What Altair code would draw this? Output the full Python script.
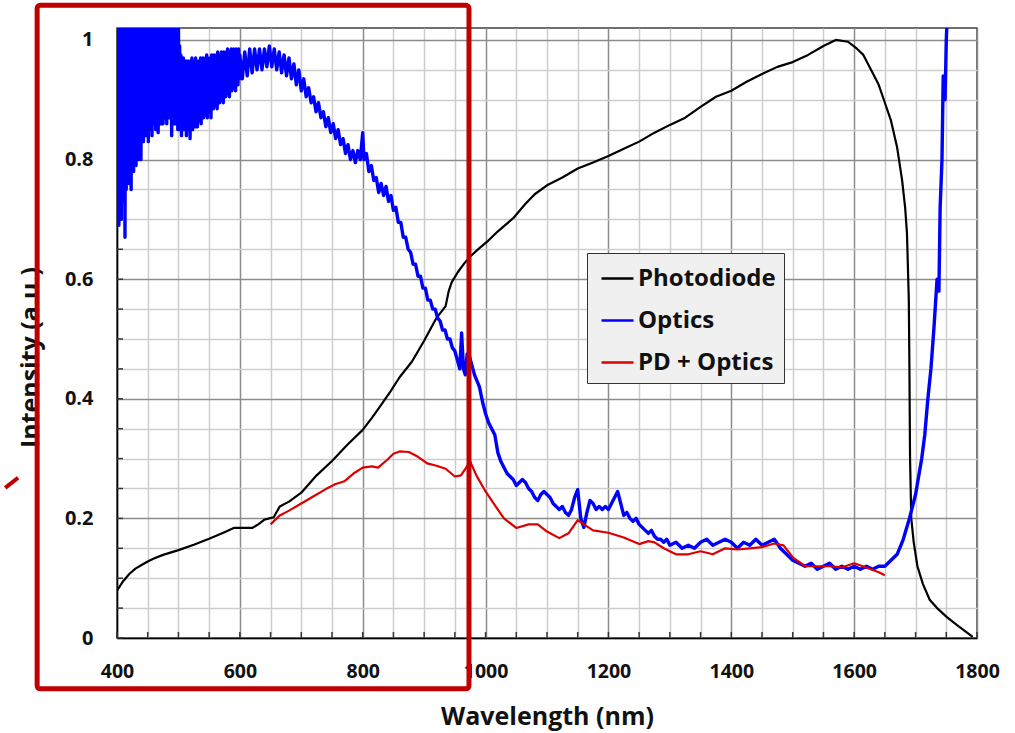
import altair as alt
import pandas as pd

# ---------------- data ----------------
series_names = ["Photodiode", "Optics", "PD + Optics"]
series_colors = ["#000000", "#0000ff", "#dd0000"]

photodiode_nm = [400, 410, 420, 430, 440, 450, 460, 475, 500, 525, 550, 575, 590, 620, 630, 640,
                 655, 665, 680, 700, 725, 750, 775, 800, 815, 830, 845, 860, 880, 900, 920, 935,
                 940, 945, 955, 965, 975, 990, 1005, 1020, 1045, 1065, 1080, 1100, 1125, 1150,
                 1175, 1200, 1225, 1250, 1275, 1300, 1325, 1350, 1375, 1400, 1425, 1450, 1475,
                 1500, 1525, 1550, 1570, 1590, 1605, 1615, 1630, 1640, 1650, 1660, 1670, 1678,
                 1683, 1686, 1689, 1690, 1691, 1693, 1697, 1703, 1712, 1723, 1735, 1751, 1767,
                 1780, 1793]
photodiode_val = [0.079, 0.095, 0.107, 0.116, 0.122, 0.128, 0.133, 0.139, 0.147, 0.156, 0.166,
                  0.177, 0.184, 0.184, 0.190, 0.198, 0.202, 0.220, 0.228, 0.243, 0.272, 0.296,
                  0.323, 0.348, 0.368, 0.390, 0.412, 0.436, 0.462, 0.497, 0.535, 0.555, 0.580,
                  0.595, 0.612, 0.626, 0.638, 0.652, 0.665, 0.680, 0.702, 0.726, 0.742, 0.757,
                  0.770, 0.785, 0.795, 0.806, 0.818, 0.830, 0.845, 0.858, 0.870, 0.888, 0.905,
                  0.915, 0.930, 0.943, 0.955, 0.963, 0.975, 0.990, 1.000, 0.997, 0.985, 0.975,
                  0.945, 0.925, 0.895, 0.865, 0.820, 0.766, 0.720, 0.677, 0.565, 0.450, 0.300,
                  0.200, 0.160, 0.120, 0.090, 0.064, 0.050, 0.035, 0.022, 0.012, 0.002]

# Optics, 400-599 nm: the trace swings between a clipped top and a noisy floor every nm
noisy_nm_even = list(range(400, 600, 2))
noisy_top = [1.05] * 50 + [
    1.02, 0.99, 0.975, 0.965, 0.97, 0.96, 0.965, 0.96, 0.965, 0.96,
    0.965, 0.97, 0.96, 0.965, 0.97, 0.965, 0.96, 0.965, 0.97, 0.965,
    0.97, 0.965, 0.97, 0.975, 0.97, 0.965, 0.97, 0.975, 0.97, 0.975,
    0.97, 0.975, 0.98, 0.97, 0.975, 0.98, 0.975, 0.98, 0.975, 0.98,
    0.985, 0.975, 0.98, 0.985, 0.98, 0.985, 0.98, 0.985, 0.98, 0.985]
noisy_nm_odd = list(range(401, 600, 2))
noisy_floor = [
    0.72, 0.69, 0.74, 0.70, 0.76, 0.73, 0.67, 0.75, 0.78, 0.76,
    0.77, 0.75, 0.80, 0.78, 0.80, 0.79, 0.82, 0.80, 0.81, 0.80,
    0.86, 0.83, 0.90, 0.84, 0.85, 0.83, 0.87, 0.85, 0.84, 0.86,
    0.88, 0.85, 0.87, 0.845, 0.87, 0.86, 0.88, 0.86, 0.89, 0.87,
    0.86, 0.88, 0.87, 0.88, 0.84, 0.86, 0.87, 0.86, 0.89, 0.85,
    0.87, 0.85, 0.84, 0.86, 0.85, 0.87, 0.84, 0.86, 0.85, 0.835,
    0.86, 0.85, 0.87, 0.855, 0.86, 0.855, 0.87, 0.865, 0.86, 0.875,
    0.87, 0.88, 0.875, 0.87, 0.885, 0.88, 0.87, 0.89, 0.885, 0.895,
    0.89, 0.885, 0.90, 0.895, 0.905, 0.90, 0.895, 0.91, 0.905, 0.915,
    0.91, 0.905, 0.92, 0.915, 0.925, 0.92, 0.915, 0.93, 0.925, 0.935]

optics_points = [
    (600, 0.975), (604, 0.935), (608, 0.98), (612, 0.94), (616, 0.985),
    (620, 0.945), (624, 0.985), (628, 0.95), (632, 0.985), (636, 0.95), (640, 0.985), (644, 0.955),
    (648, 0.99), (652, 0.955), (656, 0.985), (660, 0.95), (664, 0.98), (668, 0.945), (672, 0.975),
    (676, 0.94), (680, 0.97), (684, 0.935), (688, 0.96), (692, 0.925), (696, 0.95), (700, 0.915),
    (704, 0.935), (708, 0.905), (712, 0.92), (716, 0.895), (720, 0.905), (724, 0.88), (728, 0.895),
    (732, 0.87), (736, 0.88), (740, 0.855), (744, 0.87), (748, 0.845), (752, 0.86), (756, 0.835),
    (760, 0.85), (764, 0.825), (768, 0.835), (772, 0.81), (776, 0.825), (780, 0.80), (784, 0.815),
    (788, 0.795), (792, 0.815), (796, 0.80), (800, 0.845), (802, 0.80), (806, 0.81), (810, 0.78),
    (814, 0.79), (818, 0.765), (822, 0.77), (826, 0.745), (830, 0.76), (834, 0.74), (838, 0.755),
    (842, 0.73), (846, 0.74), (850, 0.715), (854, 0.72), (858, 0.695), (862, 0.695), (866, 0.67),
    (870, 0.67), (874, 0.65), (878, 0.645), (882, 0.625), (886, 0.625), (890, 0.605), (894, 0.605),
    (898, 0.585), (902, 0.585), (906, 0.565), (910, 0.565), (914, 0.55), (918, 0.55), (922, 0.535),
    (926, 0.53), (930, 0.515), (934, 0.515), (938, 0.50), (942, 0.50), (946, 0.485), (950, 0.48),
    (954, 0.465), (958, 0.45), (961, 0.51), (964, 0.45), (967, 0.44), (970, 0.475), (974, 0.47),
    (978, 0.455), (982, 0.44), (986, 0.43), (990, 0.42), (995, 0.395), (1000, 0.375),
    (1005, 0.36), (1010, 0.35), (1015, 0.34), (1020, 0.31), (1025, 0.295), (1030, 0.285),
    (1035, 0.275), (1040, 0.27), (1045, 0.265), (1050, 0.255), (1055, 0.26), (1060, 0.265),
    (1065, 0.26), (1070, 0.25), (1075, 0.245), (1080, 0.235), (1085, 0.23), (1090, 0.24),
    (1095, 0.245), (1100, 0.24), (1105, 0.235), (1110, 0.225), (1115, 0.22), (1120, 0.215),
    (1125, 0.22), (1130, 0.21), (1135, 0.205), (1140, 0.215), (1145, 0.235), (1150, 0.248),
    (1155, 0.20), (1160, 0.185), (1165, 0.21), (1170, 0.23), (1175, 0.225), (1180, 0.215),
    (1185, 0.22), (1190, 0.215), (1195, 0.22), (1200, 0.215), (1205, 0.225), (1210, 0.235),
    (1215, 0.245), (1220, 0.225), (1225, 0.205), (1230, 0.21), (1235, 0.20), (1240, 0.195),
    (1245, 0.20), (1250, 0.19), (1255, 0.185), (1260, 0.18), (1265, 0.175), (1270, 0.18),
    (1275, 0.17), (1280, 0.165), (1285, 0.165), (1290, 0.16), (1295, 0.165), (1300, 0.155),
    (1310, 0.16), (1320, 0.15), (1330, 0.155), (1340, 0.15), (1350, 0.16), (1360, 0.165),
    (1370, 0.155), (1380, 0.16), (1390, 0.165), (1400, 0.16), (1410, 0.15), (1420, 0.16),
    (1430, 0.155), (1440, 0.165), (1450, 0.155), (1460, 0.16), (1470, 0.165), (1480, 0.15),
    (1490, 0.14), (1500, 0.13), (1510, 0.125), (1520, 0.12), (1530, 0.125), (1540, 0.115),
    (1550, 0.12), (1560, 0.125), (1570, 0.115), (1580, 0.12), (1590, 0.115), (1600, 0.12),
    (1610, 0.115), (1620, 0.12), (1630, 0.115), (1640, 0.12), (1650, 0.12), (1660, 0.13),
    (1670, 0.14), (1680, 0.165), (1690, 0.20), (1700, 0.24), (1705, 0.27), (1710, 0.30),
    (1715, 0.34), (1720, 0.40), (1725, 0.45), (1730, 0.52), (1735, 0.60), (1738, 0.58),
    (1740, 0.72), (1743, 0.80), (1745, 0.94), (1748, 0.90), (1750, 1.00), (1752, 1.05),
]

pd_optics_nm = [650, 665, 680, 700, 720, 740, 755, 770, 785, 800, 815, 825, 840, 850, 860, 875,
                890, 905, 920, 935, 950, 960, 975, 985, 1000, 1015, 1030, 1050, 1070, 1085, 1100,
                1120, 1135, 1150, 1160, 1175, 1200, 1225, 1250, 1265, 1275, 1290, 1310, 1330,
                1350, 1370, 1390, 1410, 1430, 1450, 1470, 1485, 1500, 1520, 1540, 1560, 1580,
                1600, 1620, 1640, 1650]
pd_optics_val = [0.190, 0.205, 0.213, 0.225, 0.237, 0.249, 0.257, 0.262, 0.275, 0.285, 0.287,
                 0.285, 0.298, 0.308, 0.312, 0.311, 0.303, 0.292, 0.288, 0.283, 0.270, 0.272,
                 0.295, 0.272, 0.245, 0.222, 0.200, 0.184, 0.190, 0.190, 0.178, 0.167, 0.175,
                 0.197, 0.190, 0.180, 0.176, 0.168, 0.157, 0.162, 0.160, 0.150, 0.140, 0.140,
                 0.145, 0.140, 0.150, 0.148, 0.150, 0.152, 0.158, 0.155, 0.135, 0.120, 0.120,
                 0.120, 0.118, 0.125, 0.118, 0.110, 0.105]

x_ticks = list(range(400, 1801, 50))
y_ticks = [round(i * 0.05, 2) for i in range(21)]

# red highlight box (annotation) in data units
highlight_nm = [270, 973]
highlight_int = [-0.085, 1.058]
slash_nm = [218, 239]
slash_int = [0.251, 0.268]

# ---------------- frames ----------------
pdf = pd.DataFrame({"nm": photodiode_nm, "val": photodiode_val, "series": series_names[0]})
optics_nm = noisy_nm_even + noisy_nm_odd + [p[0] for p in optics_points]
optics_val = noisy_top + noisy_floor + [p[1] for p in optics_points]
odf = pd.DataFrame({"nm": optics_nm, "val": optics_val, "series": series_names[1]})
rdf = pd.DataFrame({"nm": pd_optics_nm, "val": pd_optics_val, "series": series_names[2]})

FONT = "Open Sans"
TXT = "#111111"
xscale = alt.Scale(domain=[400, 1800], nice=False, zero=False)
yscale = alt.Scale(domain=[0, 1.02], nice=False, zero=True)
cscale = alt.Scale(domain=series_names, range=series_colors)

XAXIS = alt.Axis(
    values=x_ticks, format="d",
    labelExpr="datum.value % 200 === 0 ? datum.label : ''",
    grid=True,
    gridColor={"condition": {"test": "datum.value % 200 === 0", "value": "#8c8c8c"}, "value": "#cdcdcd"},
    gridWidth=1.5, ticks=False, domainColor="#000000", domainWidth=1.5,
    labelFont=FONT, labelFontWeight="bold", labelFontSize=19.5, labelColor=TXT,
    labelPadding=24, labelFlush=False, labelOverlap=False,
    title="Wavelength (nm)", titleFont=FONT, titleFontWeight="bold", titleFontSize=25,
    titleColor=TXT, titlePadding=24,
)
YAXIS = alt.Axis(
    values=y_ticks,
    labelExpr="abs(datum.value*5 - round(datum.value*5)) < 0.001 ? format(datum.value, '') : ''",
    grid=True,
    gridColor={"condition": {"test": "abs(datum.value*5 - round(datum.value*5)) < 0.001", "value": "#8c8c8c"},
               "value": "#cdcdcd"},
    gridWidth=1.5, ticks=False, domainColor="#000000", domainWidth=1.5,
    labelFont=FONT, labelFontWeight="bold", labelFontSize=20, labelColor=TXT,
    labelPadding=24, labelOverlap=False, labelFlush=False,
    title="Intensity (a.u.)", titleFont=FONT, titleFontWeight="bold", titleFontSize=25,
    titleColor=TXT, titlePadding=21, titleY=329,
)

legend = alt.Legend(
    title=None, orient="none", legendX=470, legendY=225,
    fillColor="#f0f0f0", strokeColor="#333333", padding=8,
    symbolType="stroke", symbolSize=1024, symbolStrokeWidth=2.5, symbolOffset=5,
    labelFont=FONT, labelFontWeight="bold", labelFontSize=24, labelColor=TXT,
    rowPadding=12, labelOffset=3,
)


def X(field):
    return alt.X(field, scale=xscale, axis=XAXIS)


def Y(field):
    return alt.Y(field, scale=yscale, axis=YAXIS)


def series_layer(df, width):
    return alt.Chart(df).mark_line(strokeWidth=width, clip=True, strokeJoin="round").encode(
        x=X("nm:Q"),
        y=Y("val:Q"),
        color=alt.Color("series:N", scale=cscale, legend=legend, sort=series_names),
        order=alt.Order("nm:Q"),
    )


black_line = series_layer(pdf, 2.2)
blue_line = series_layer(odf, 3.4)
red_line = series_layer(rdf, 2.2)

xt = pd.DataFrame({"t": x_ticks})
yt = pd.DataFrame({"t": y_ticks})
x_minor = alt.Chart(xt).mark_rule(color="#333333", strokeWidth=1.5).encode(
    x=X("t:Q"), y=alt.value(610), y2=alt.value(604))
y_minor = alt.Chart(yt).mark_rule(color="#333333", strokeWidth=1.5).encode(
    y=Y("t:Q"), x=alt.value(0), x2=alt.value(6))

hl = pd.DataFrame({"x1": [highlight_nm[0]], "x2": [highlight_nm[1]],
                   "y1": [highlight_int[0]], "y2": [highlight_int[1]]})
box = alt.Chart(hl).mark_rect(filled=False, stroke="#c00000", strokeWidth=5, clip=False,
                              cornerRadius=3).encode(
    x=X("x1:Q"), x2="x2:Q", y=Y("y1:Q"), y2="y2:Q")
sl = pd.DataFrame({"x1": [slash_nm[0]], "x2": [slash_nm[1]],
                   "y1": [slash_int[0]], "y2": [slash_int[1]]})
slash = alt.Chart(sl).mark_rule(color="#c00000", strokeWidth=4, clip=False).encode(
    x=X("x1:Q"), x2="x2:Q", y=Y("y1:Q"), y2="y2:Q")

chart = alt.layer(
    x_minor, y_minor, black_line, blue_line, red_line, box, slash
).properties(
    width=860, height=610,
    padding={"left": 117, "top": 28, "right": 38, "bottom": 95},
    autosize=alt.AutoSizeParams(type="none"),
    background="#ffffff",
).configure_view(
    stroke="#404040", strokeWidth=1.5,
)

chart.save("out.html", embed_options={"renderer": "svg", "actions": False})
